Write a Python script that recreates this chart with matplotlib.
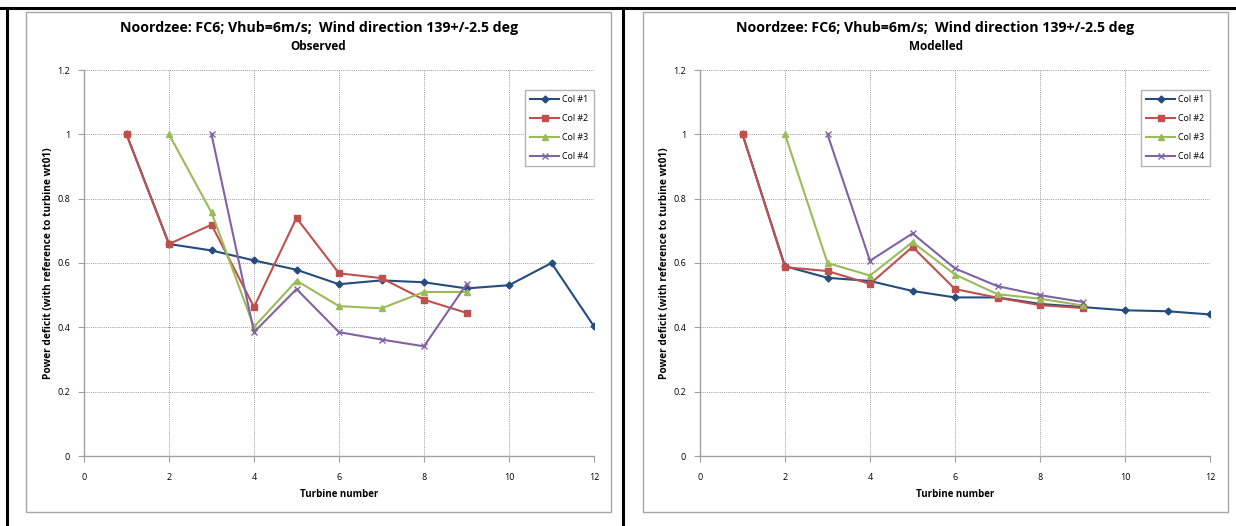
import matplotlib
matplotlib.use("Agg")
import matplotlib.pyplot as plt
from matplotlib.patches import Rectangle
from matplotlib.lines import Line2D

plt.rcParams['font.family'] = ['Open Sans', 'DejaVu Sans']

series_names = ["Col #1", "Col #2", "Col #3", "Col #4"]

# Observed
obs_x1 = [1, 2, 3, 4, 5, 6, 7, 8, 9, 10, 11, 12]
obs_y1 = [1.0, 0.659, 0.639, 0.608, 0.579, 0.534, 0.546, 0.540, 0.521, 0.531, 0.600, 0.403]
obs_x2 = [1, 2, 3, 4, 5, 6, 7, 8, 9]
obs_y2 = [1.0, 0.659, 0.719, 0.463, 0.740, 0.568, 0.553, 0.486, 0.445]
obs_x3 = [2, 3, 4, 5, 6, 7, 8, 9]
obs_y3 = [1.0, 0.757, 0.401, 0.545, 0.466, 0.459, 0.510, 0.510]
obs_x4 = [3, 4, 5, 6, 7, 8, 9]
obs_y4 = [1.0, 0.385, 0.519, 0.385, 0.362, 0.341, 0.534]

# Modelled
mod_x1 = [1, 2, 3, 4, 5, 6, 7, 8, 9, 10, 11, 12]
mod_y1 = [1.0, 0.590, 0.554, 0.544, 0.513, 0.493, 0.493, 0.473, 0.463, 0.453, 0.450, 0.440]
mod_x2 = [1, 2, 3, 4, 5, 6, 7, 8, 9]
mod_y2 = [1.0, 0.587, 0.575, 0.535, 0.650, 0.519, 0.492, 0.469, 0.460]
mod_x3 = [2, 3, 4, 5, 6, 7, 8, 9]
mod_y3 = [1.0, 0.600, 0.561, 0.665, 0.564, 0.503, 0.489, 0.468]
mod_x4 = [3, 4, 5, 6, 7, 8, 9]
mod_y4 = [1.0, 0.607, 0.692, 0.583, 0.528, 0.500, 0.479]

title_main = "Noordzee: FC6; Vhub=6m/s;  Wind direction 139+/-2.5 deg"
subtitles = ["Observed", "Modelled"]
x_ticks = [0, 2, 4, 6, 8, 10, 12]
y_ticks = [0, 0.2, 0.4, 0.6, 0.8, 1.0, 1.2]
y_tick_labels = ["0", "0.2", "0.4", "0.6", "0.8", "1", "1.2"]

colors = ["#244C7E", "#C0504D", "#9BBB59", "#8064A2"]
markers = ["D", "s", "^", "x"]
msizes = [3.5, 4.5, 4.5, 5]

W, H = 1236, 526
fig = plt.figure(figsize=(W / 100, H / 100), dpi=100)

def fx(px):
    return px / W

def fy(py):
    return 1 - py / H

# outer black borders
for (x0, y0, x1, y1) in [(0, 8, W, 8), (7, 8, 7, H), (623, 8, 623, H)]:
    fig.add_artist(Line2D([fx(x0), fx(x1)], [fy(y0), fy(y1)], color="black", lw=2.2))

# chart frames
for (l, r) in [(26, 611), (643, 1228)]:
    fig.add_artist(Rectangle((fx(l), fy(512)), fx(r) - fx(l), fy(12) - fy(512),
                             fill=False, edgecolor="#A6A6A6", lw=1.0))

panels = [
    (84, 594, 318.5, [(obs_x1, obs_y1), (obs_x2, obs_y2), (obs_x3, obs_y3), (obs_x4, obs_y4)], subtitles[0]),
    (700, 1210, 935.5, [(mod_x1, mod_y1), (mod_x2, mod_y2), (mod_x3, mod_y3), (mod_x4, mod_y4)], subtitles[1]),
]

for (l, r, cx, data, sub) in panels:
    ax = fig.add_axes([fx(l), fy(456), fx(r) - fx(l), fy(70) - fy(456)])
    for i, (xs, ys) in enumerate(data):
        ax.plot(xs, ys, color=colors[i], marker=markers[i], ms=msizes[i], lw=1.5,
                mew=1.0, label=series_names[i])
    ax.set_xlim(0, 12)
    ax.set_ylim(0, 1.2)
    ax.set_xticks(x_ticks)
    ax.set_yticks(y_ticks)
    ax.set_yticklabels(y_tick_labels)
    ax.grid(True, color="#9A9A9A", ls=(0, (1, 1.2)), lw=0.7)
    ax.set_axisbelow(True)
    for s in ["top", "right"]:
        ax.spines[s].set_visible(False)
    for s in ["left", "bottom"]:
        ax.spines[s].set_color("#A0A0A0")
        ax.spines[s].set_linewidth(1.0)
    ax.tick_params(axis="both", colors="#A0A0A0", labelcolor="black", labelsize=6.5,
                   length=4, width=0.8, direction="out")
    ax.tick_params(axis="x", pad=8)
    ax.tick_params(axis="y", pad=6)
    ax.set_xlabel("Turbine number", fontsize=7, fontweight="bold", labelpad=5)
    ax.set_ylabel("Power deficit (with reference to turbine wt01)", fontsize=7.3,
                  fontweight="bold", labelpad=2.5)
    leg = ax.legend(loc="upper right", bbox_to_anchor=(1.0, 0.948), fontsize=6.4,
                    frameon=True, fancybox=False, borderpad=0.6, labelspacing=1.1,
                    handlelength=3.2, handletextpad=0.4, borderaxespad=0.0)
    leg.get_frame().set_edgecolor("#A0A0A0")
    leg.get_frame().set_linewidth(1.0)
    fig.text(fx(cx), fy(28), title_main, ha="center", va="center", fontsize=10.2, fontweight="bold")
    fig.text(fx(cx), fy(47), sub, ha="center", va="center", fontsize=8.5, fontweight="bold")

fig.savefig("out.png", dpi=100)
